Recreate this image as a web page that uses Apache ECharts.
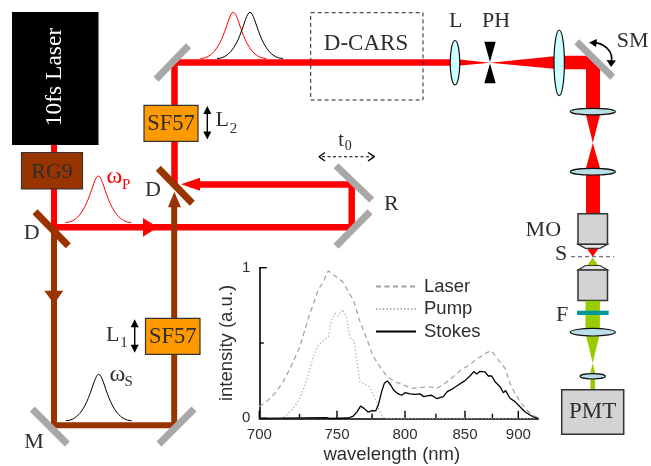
<!DOCTYPE html>
<html>
<head>
<meta charset="utf-8">
<style>html,body{margin:0;padding:0;background:#fff}#c{width:651px;height:466px}</style>
<script src="https://cdn.jsdelivr.net/npm/echarts@6/dist/echarts.min.js"></script>
</head>
<body>
<div id="c"></div>
<script>
// Wavelengths (nm) and intensities (a.u.)
const laserNm = [700,704.4,709.5,714.7,720,725.3,730.7,737.3,740.7,744,748.6,753.9,757.9,761.4,766.2,771,775.9,780.8,785.9,792.2,798.7,805.2,811.9,818.7,825.6,832.7,839.8,847.1,854.4,858.9,865,869.6,874.3,880.6,887,891.8,896.7,901.7,908.4,915.1,920.3];
const laserI = [.077,.111,.166,.243,.354,.476,.664,.852,.907,.98,.945,.907,.841,.785,.642,.531,.409,.343,.281,.243,.221,.199,.204,.21,.199,.232,.277,.325,.354,.387,.414,.436,.447,.387,.332,.232,.166,.111,.055,.018,0];
const pumpNm = [700,713.7,715.8,720,724.2,727.4,730.7,734,737.3,740.7,744,746.3,748.6,750.9,753.9,756.7,759,761.9,763.8,766.2,769.8,773.4,777.1,779.6,783.4,785.9,920.3];
const pumpI = [0,0,.011,.055,.111,.188,.288,.409,.487,.515,.542,.653,.697,.679,.723,.675,.538,.515,.387,.243,.228,.206,.133,.066,.004,0,0];
const stokesNm = [700,742.9,745.2,757.9,761.4,764.2,766.7,769.1,772.2,774.7,777.6,779.6,782.1,784.1,786.4,788.9,791.5,794.8,797.4,800,803.9,807.9,811.9,815.1,818.7,821.4,825.6,831.2,834.6,839.8,844.1,850,854.4,858,860.5,863.5,868.1,871.2,874.3,877.5,882.2,885.4,887.6,891.8,896.7,901.7,906.6,911.8,916.9,920.3];
const stokesI = [0,.004,0,.002,.015,.044,.082,.066,.04,.051,.049,.088,.177,.232,.248,.221,.184,.162,.153,.17,.162,.159,.162,.144,.15,.153,.131,.144,.177,.199,.221,.25,.281,.31,.294,.312,.308,.281,.281,.243,.21,.17,.184,.133,.111,.077,.044,.022,.004,0];
const majorTicksNm = [700,750,800,850,900];
const minorTicksNm = [725,775,825,875];
const majorTicksY = [0,1];
const minorTicksY = [0.5];
const seriesNames = ['Laser','Pump','Stokes'];

// The wavelength axis is linear in frequency, as in the reference
const toF = nm => 1e7 / nm;
const pairs = (nm, v) => nm.map((n, i) => [toF(n), v[i]]);

const RED='#ff0000', BROWN='#993300', GRAY='#a8a8a8', GREEN='#99cc00', INK='#2e2e2e';
const SERIF='"Liberation Serif","Times New Roman",serif', SANS='"Liberation Sans",Arial,sans-serif';
const g = [];
const line=(x1,y1,x2,y2,stroke,w,dash)=>g.push({type:'line',silent:true,shape:{x1,y1,x2,y2},style:{stroke,lineWidth:w,lineDash:dash||null}});
const pline=(points,stroke,w)=>g.push({type:'polyline',silent:true,shape:{points},style:{stroke,lineWidth:w,fill:null,lineJoin:'bevel'}});
const poly=(points,fill,stroke,w)=>g.push({type:'polygon',silent:true,shape:{points},style:{fill,stroke:stroke||null,lineWidth:w||0}});
const box=(x,y,w,h,fill,stroke,lw)=>g.push({type:'rect',silent:true,shape:{x,y,width:w,height:h},style:{fill,stroke:stroke||null,lineWidth:lw||0}});
const lens=(cx,cy,rx,ry,fill)=>g.push({type:'ellipse',silent:true,shape:{cx,cy,rx,ry},style:{fill,stroke:'#111',lineWidth:1.2}});
const txt=(x,y,text,size,fill,rot)=>g.push({type:'text',silent:true,x,y,rotation:rot||0,style:{text,x:0,y:0,fontFamily:SERIF,fontSize:size,fill:fill||INK,align:'center',verticalAlign:'middle'}});
const pulse=(c,b,t,stroke)=>{
  g.push({type:'bezierCurve',silent:true,shape:{x1:c-33,y1:b,cpx1:c-10,cpy1:b,cpx2:c-6,cpy2:t,x2:c,y2:t},style:{stroke,lineWidth:1,fill:null}});
  g.push({type:'bezierCurve',silent:true,shape:{x1:c,y1:t,cpx1:c+6,cpy1:t,cpx2:c+10,cpy2:b,x2:c+33,y2:b},style:{stroke,lineWidth:1,fill:null}});
};
const dbl=(x,y1,y2)=>{
  line(x,y1+5,x,y2-5,'#000',1.4);
  poly([[x,y1],[x-4,y1+8],[x+4,y1+8]],'#000');
  poly([[x,y2],[x-4,y2-8],[x+4,y2-8]],'#000');
};

// ---- beams
line(54,145,54,230,RED,6);
pline([[174.5,187],[174.5,62.5],[455,62.5]],RED,6.5);
line(54,227.3,174,227.3,RED,6.5);
pline([[174,227.3],[351.7,227.3],[351.7,184.5],[190,184.5]],RED,6.5);
pline([[54,228],[54,425.3],[174.2,425.3],[174.2,205]],BROWN,6);
poly([[143,218],[158,227.3],[143,236.7]],RED);
poly([[200,177.7],[181,184.3],[200,190.7]],RED);
poly([[44.3,290.7],[63.3,290.7],[54,304]],BROWN);
poly([[168,207.3],[181,207.3],[174.3,191.7]],BROWN);
// focusing section
poly([[455,59],[490,62.7],[455,66]],RED);
poly([[490,62.7],[559,55.7],[559,69.3]],RED);
poly([[559,55.7],[586.5,55.7],[600,69.3],[600,108],[586,108],[586,69.3],[559,69.3]],RED);
poly([[586,115],[600,115],[592.8,143]],RED);
poly([[592.8,143],[586,168],[600,168]],RED);
line(593,172,593,214,RED,14);
poly([[587.3,249],[598.3,249],[592.7,256.7]],RED);
// green part
poly([[592.7,257.7],[587.3,265],[598.3,265]],GREEN);
line(592.7,300,592.7,332,GREEN,14);
poly([[585.7,334],[599.7,334],[592.7,363.3]],GREEN);
poly([[592.7,363.3],[590,374],[595.4,374]],GREEN);
line(592.7,378,592.7,390,GREEN,4.7);

// ---- mirrors
[[156,79.3,188.5,45.7],[336,165.7,371.7,200],[370,211.7,336,246.3],[32.3,409,67.3,444],[194,409,159,444],[576.7,41.7,612.7,77.3]].forEach(m=>line(m[0],m[1],m[2],m[3],GRAY,7));
// dichroics
line(158.3,168.3,192.3,203.3,BROWN,7);
line(35,211.7,68.3,245.7,BROWN,7);

// ---- boxes
box(12,12,86.5,133,'#000');
txt(55,77,'10fs Laser',23.5,'#fff',Math.PI/2);
box(21.5,152.5,61,36.5,BROWN,'#333',1.2);
txt(52,172,'RG9',22,INK);
box(144,105.3,54,36,'#ff9900','#333',1.2);
txt(171,124,'SF57',22.5,INK);
box(145.5,318.3,54.5,36,'#ff9900','#333',1.2);
txt(172.7,337,'SF57',22.5,INK);
g.push({type:'rect',silent:true,shape:{x:310.7,y:12.7,width:112.3,height:87.3},style:{fill:null,stroke:'#222',lineWidth:1,lineDash:[4,3]}});
txt(366,43.5,'D-CARS',23);

// ---- lenses / pinhole
lens(455,62.7,4.8,22.2,'#ccffff');
lens(559.2,62.8,5.2,32.8,'#ccffff');
lens(592.8,111.6,22.5,3.3,'#b8dfe6');
lens(592.8,171.7,22.5,3.3,'#b8dfe6');
lens(592.7,376.3,12.7,2.7,'#b8dfe6');
poly([[484.3,41.7],[495.7,41.7],[490,62]],'#000');
poly([[484.3,83.3],[495.7,83.3],[490,63.5]],'#000');

// ---- microscope
box(578,213.7,29.5,30.6,'#d3d3d3','#333',1.5);
poly([[578,244.3],[607.5,244.3],[600,248.3],[585.5,248.3]],'#e6e6e6','#333',1.2);
poly([[585.5,265.5],[600,265.5],[607.5,270],[578,270]],'#e6e6e6','#333',1.2);
box(578,270,29.5,30.6,'#d3d3d3','#333',1.5);
line(571,256.7,614,256.7,'#555',1,[4,3]);
line(592.7,300.8,592.7,332,GREEN,14);
box(577,310.7,31.7,4.3,'#009999');
lens(592.8,332.2,22.5,3.8,'#b8dfe6');
box(561.7,389.7,62,44.6,'#d3d3d3','#333',1.5);
txt(592.7,412,'PMT',23);

// ---- scan arrow
g.push({type:'bezierCurve',silent:true,shape:{x1:592,y1:43,cpx1:602,cpy1:42,cpx2:615,cpy2:50,x2:611,y2:64},style:{stroke:'#000',lineWidth:1.6,fill:null}});
poly([[589,42.5],[597,39],[596,47]],'#000');
poly([[611,67],[606.5,60],[616,60.5]],'#000');

// ---- delay arrow t0
line(322,156.7,372,156.7,'#000',1.1,[3,2.5]);
pline([[325,152.5],[319,156.7],[325,161]],'#000',1.4);
pline([[368,152.5],[374.5,156.7],[368,161]],'#000',1.4);

// ---- pulses
pulse(233.3,58.5,12.3,RED);
pulse(250,58.5,12.3,'#000');
pulse(98.3,222.5,176,RED);
pulse(98.7,420.7,374.3,'#000');

// ---- translation arrows
dbl(207.3,106,139.5);
dbl(134.7,319.3,352.7);

// ---- labels
txt(222.3,120.7,'L',22); txt(233.5,129.5,'2',15);
txt(112.7,335,'L',22);  txt(124,343.5,'1',15);
txt(153,190.7,'D',22);
txt(31.7,233,'D',22);
txt(34,442.3,'M',22);
txt(391.3,204.3,'R',22);
txt(341,140.5,'t',20);  txt(348.3,146.5,'0',14);
txt(114.5,177,'ω',24,RED); txt(126.2,185,'P',15,RED);
txt(117.5,375,'ω',24);  txt(128.7,382,'S',15);
txt(455.7,21.7,'L',22);
txt(496,21.7,'PH',22);
txt(632.7,41.7,'SM',22);
txt(543.3,230.7,'MO',22);
txt(561,254,'S',22);
txt(562,315.7,'F',22);

// ---- inset spectrum: inward ticks of two lengths, placed by the axes
const tickLine=(a,b,c,d)=>({type:'line',shape:{x1:a,y1:b,x2:c,y2:d},style:{stroke:'#000',lineWidth:1.4}});
const xTicks=(values,len)=>({type:'custom',silent:true,clip:false,data:values.map(v=>[toF(v),0]),
  renderItem:(p,api)=>{const c=api.coord([api.value(0),0]);return tickLine(c[0],c[1],c[0],c[1]-len);}});
const yTicks=(values,len)=>({type:'custom',silent:true,clip:false,data:values.map(v=>[toF(700),v]),
  renderItem:(p,api)=>{const c=api.coord([toF(700),api.value(1)]);return tickLine(c[0],c[1],c[0]+len,c[1]);}});

const axisLineStyle = {show:true, onZero:false, lineStyle:{color:'#000',width:1.6}};
const chart = echarts.init(document.getElementById('c'), null, {renderer:'canvas'});
chart.setOption({
  animation:false,
  backgroundColor:'#fff',
  graphic:g,
  grid:{left:259.3,right:112.7,top:267.7,bottom:47.7,containLabel:false,outerBoundsMode:'none'},
  legend:{
    orient:'vertical',left:370,top:272,itemWidth:40,itemHeight:14,itemGap:3.5,
    data:seriesNames,itemStyle:{opacity:0},
    textStyle:{fontFamily:SANS,fontSize:18.5,color:INK,padding:[0,0,0,3]}
  },
  xAxis:{type:'value',inverse:true,min:toF(920.3),max:toF(700),
     name:'wavelength (nm)',nameLocation:'middle',nameGap:27,
     nameTextStyle:{fontFamily:SANS,fontSize:18.5,color:INK,padding:[0,14,0,0]},
     axisLine:axisLineStyle,splitLine:{show:false},axisTick:{show:false},
     axisLabel:{show:true,margin:9,fontFamily:SANS,fontSize:15,color:INK,customValues:majorTicksNm.map(toF),
       formatter:v=>String(Math.round(1e7/v))}},
  yAxis:{type:'value',min:0,max:1,
     name:'intensity (a.u.)',nameLocation:'middle',nameGap:23,
     nameTextStyle:{fontFamily:SANS,fontSize:18.5,color:INK},
     axisLine:axisLineStyle,splitLine:{show:false},axisTick:{show:false},
     axisLabel:{show:true,margin:9,moveOverlap:false,verticalAlignMinLabel:'middle',verticalAlignMaxLabel:'middle',
       fontFamily:SANS,fontSize:15,color:INK,customValues:majorTicksY,formatter:v=>String(v)}},
  series:[
    {name:'Laser',type:'line',data:pairs(laserNm,laserI),showSymbol:false,symbol:'none',
     lineStyle:{color:'#a0a0a0',width:1.2,type:[5,3.5]},itemStyle:{color:'#a0a0a0'}},
    {name:'Pump',type:'line',data:pairs(pumpNm,pumpI),showSymbol:false,symbol:'none',
     lineStyle:{color:'#a8a8a8',width:1.2,type:[1.3,2.2]},itemStyle:{color:'#a8a8a8'}},
    {name:'Stokes',type:'line',data:pairs(stokesNm,stokesI),showSymbol:false,symbol:'none',
     lineStyle:{color:'#000',width:1.3},itemStyle:{color:'#000'}},
    xTicks(majorTicksNm,7.5),xTicks(minorTicksNm,4.5),
    yTicks(majorTicksY,7.5),yTicks(minorTicksY,4.5)
  ]
});
</script>
</body>
</html>
